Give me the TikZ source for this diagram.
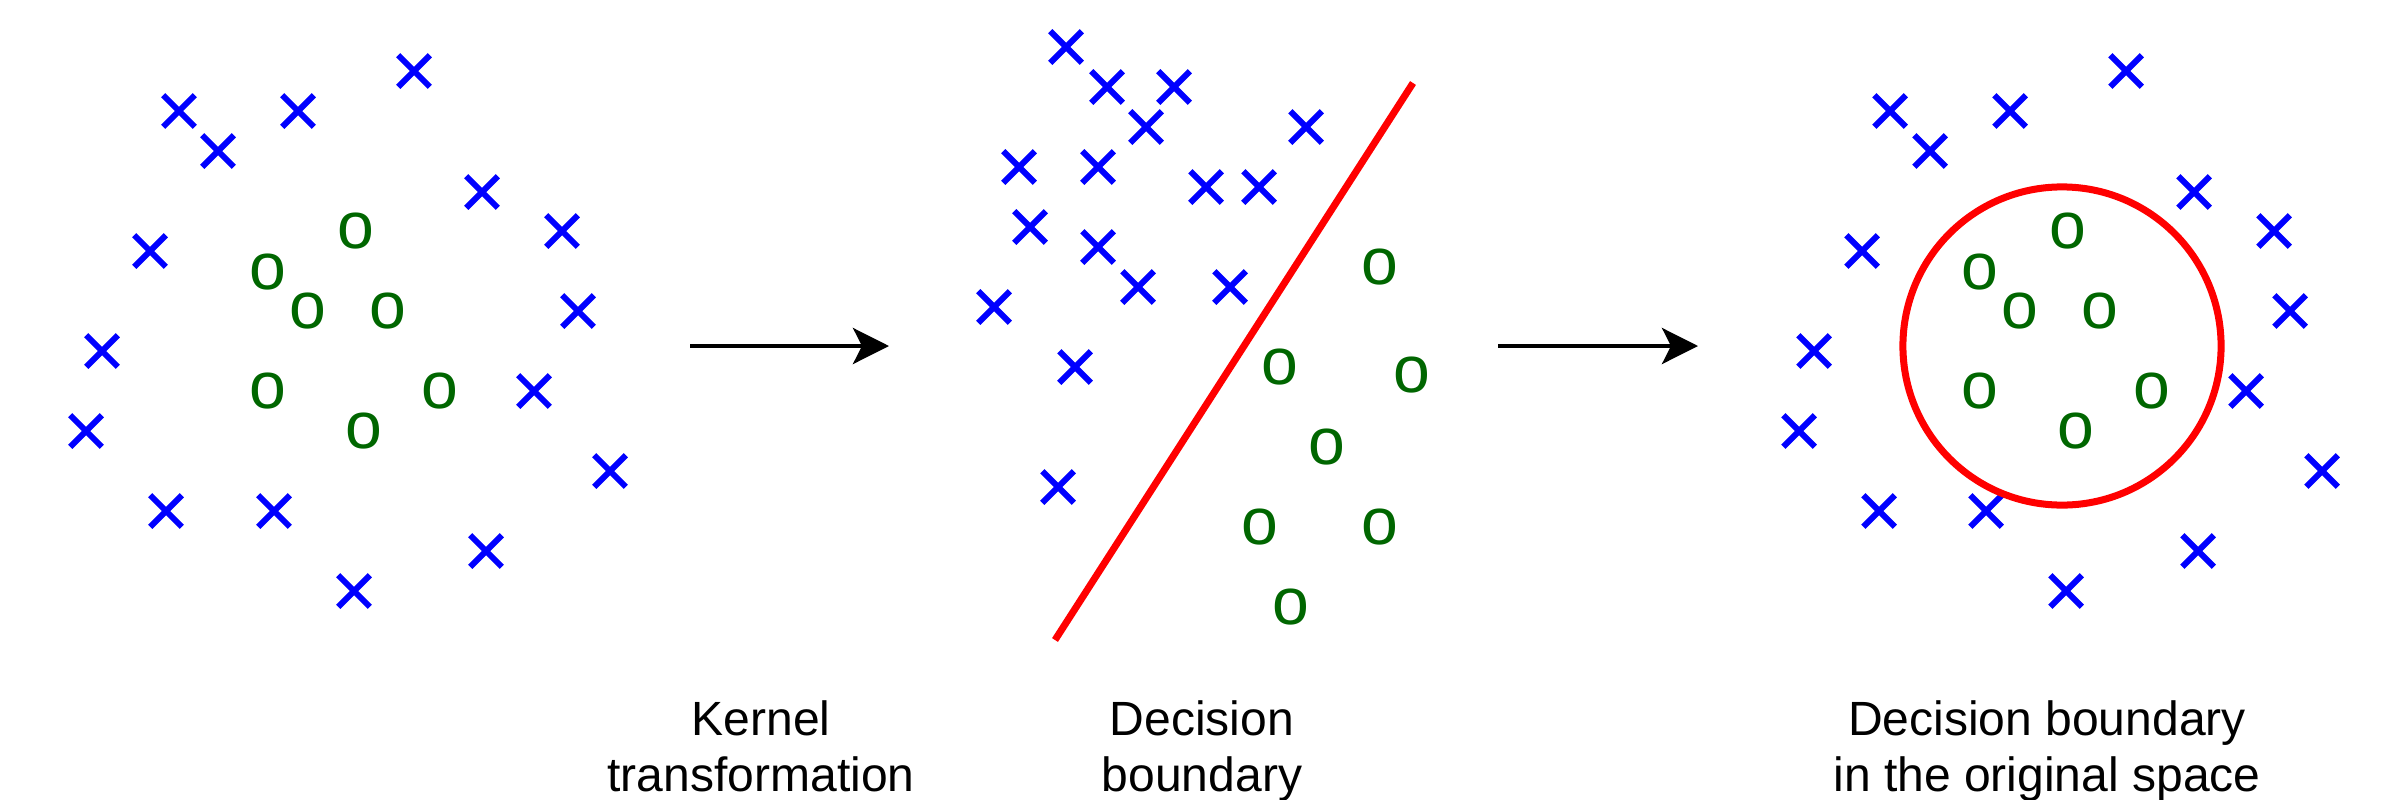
\documentclass[tikz,border=0pt]{standalone}
\usepackage{fontspec}
\setmainfont{Liberation Sans}
\usetikzlibrary{shapes.misc,arrows.meta}
\definecolor{xblue}{RGB}{0,0,255}
\definecolor{ogreen}{RGB}{0,102,0}
\definecolor{lred}{RGB}{255,0,0}
\begin{document}
\begin{tikzpicture}[x=0.01cm,y=-0.01cm,
  xmark/.style={cross out,draw=xblue,line width=0.06cm,minimum size=0.255cm,inner sep=0pt},
  omark/.style={text=ogreen,font=\fontsize{18.8pt}{20pt}\selectfont,inner sep=0pt},
  boundary/.style={draw=lred,line width=0.07cm},
  flow/.style={-{Stealth[length=0.36cm,width=0.36cm,inset=0.09cm]},line width=0.04cm},
  caption/.style={align=center,font=\fontsize{13.66pt}{15.65pt}\selectfont,inner sep=0pt,anchor=base}]
\useasboundingbox (0,0) rectangle (2400,800);

% panel 1: original space
\foreach \p [count=\i] in {(414,71),(179,111),(298,111),(218,151),(482,192),(562,231),(150,251),(578,311),(102,351),(534,391),(86,431),(610,471),(166,511),(274,511),(486,551),(354,591)}
  \node[xmark] (a\i) at \p {};
\foreach \p [count=\i] in {(356,231),(268,272),(308,311),(388,311),(268,391),(440,391),(364,431)}
  \node[omark] (ao\i) at \p {o};

% panel 2: transformed space
\foreach \p [count=\i] in {(1066,47),(1107,87),(1174,87),(1146,127),(1306,127),(1019,167),(1098,167),(1206,187),(1259,187),(1030,227),(1098,247),(1138,287),(1230,287),(994,307),(1075,367),(1058,487)}
  \node[xmark] (b\i) at \p {};
\foreach \p [count=\i] in {(1380,267),(1280,367),(1412,375),(1327,447),(1260,527),(1380,527),(1291,607)}
  \node[omark] (bo\i) at \p {o};
\coordinate (lineTop) at (1413,83);
\coordinate (lineBot) at (1055,640);
\draw[boundary] (lineBot) -- (lineTop);

% panel 3: original space with boundary
\foreach \p [count=\i] in {(2126,71),(1890,111),(2010,111),(1930,151),(2194,192),(2274,231),(1862,251),(2290,311),(1814,351),(2246,391),(1799,431),(2322,471),(1879,511),(1986,511),(2198,551),(2066,591)}
  \node[xmark] (c\i) at \p {};
\foreach \p [count=\i] in {(2068,231),(1980,272),(2020,311),(2100,311),(1980,391),(2152,391),(2076,431)}
  \node[omark] (co\i) at \p {o};
\node[boundary,circle,minimum size=3.18cm,inner sep=0pt] (ring) at (2062,346) {};

% arrows
\coordinate (k1) at (690,346);
\coordinate (k2) at (889,346);
\coordinate (m1) at (1498,346);
\coordinate (m2) at (1698,346);
\draw[flow] (k1) -- (k2);
\draw[flow] (m1) -- (m2);

% captions (anchor = baseline of the last line)
\node[caption] (cap1) at (761,791) {Kernel\\transformation};
\node[caption] (cap2) at (1202,791) {Decision\\boundary};
\node[caption] (cap3) at (2047,791) {Decision boundary\\in the original space};
\end{tikzpicture}
\end{document}
